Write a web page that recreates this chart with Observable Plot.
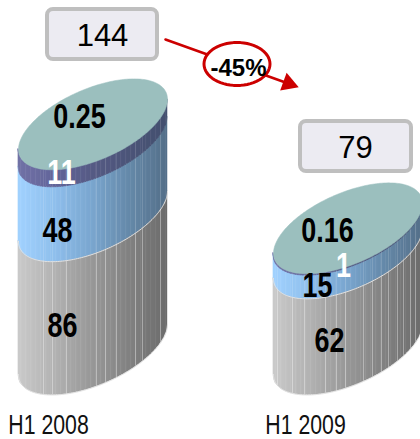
<!DOCTYPE html>
<html>
<head>
<meta charset="utf-8">
<style>html,body{margin:0;padding:0;background:#fff;overflow:hidden}svg{display:block}</style>
<script src="https://cdn.jsdelivr.net/npm/d3@7"></script>
<script src="https://cdn.jsdelivr.net/npm/@observablehq/plot@0.6"></script>
</head>
<body>
<div id="chart"></div>
<script>
// ---- data ----
const periods = ["H1 2008", "H1 2009"];
const totals = [144, 79];
const gray = [86, 62];
const blue = [48, 15];
const purple = [11, 1];
const teal = [0.25, 0.16];
const changeLabel = "-45%";

// ---- layout ----
const W = 420, H = 439;
const pxPerUnit = 1.55, basePx = 349;
const toY = p => (basePx - p) / pxPerUnit;
const centers = [92.5, 347.5];
const halfW = 74.5, halfHpx = 38, skewPx = 25;
const b = halfHpx / pxPerUnit, k = skewPx / pxPerUnit;
const ramps = {
  gray: ["#cbcbcb", "#b2b2b2", "#989898", "#828282", "#6c6c6c"],
  blue: ["#a2d2ff", "#8fbfec", "#7aa6cf", "#6589a9", "#55708a"],
  purple: ["#7272a6", "#62659a", "#565b85", "#4c5579", "#44506f"]
};
const ruleOpacity = { gray: 0.36, blue: 0.14, purple: 0.1, teal: 0 };
const slatLines = [
  [25, 34, 48, 78, 87, 98, 117, 124, 142, 149, 154, 160, 165],
  [277, 292, 304, 325, 336, 345, 363, 372, 381, 388, 397, 403, 410, 415]
];
const labelPx = { // pixel centres of the printed value labels
  gray: [[62, 325], [329, 340]],
  blue: [[57, 230], [317, 285]],
  purple: [[61, 172], [343, 265]],
  teal: [[79, 116], [327, 230]]
};
const FS = '"Liberation Sans",Arial,sans-serif';
const narrowValue = 0.77, narrowCaption = 0.76;

// ---- geometry through the chart's coordinates ----
const front = (c, base, x) => { const u = (x - c) / halfW; return base + k * u - b * Math.sqrt(Math.max(0, 1 - u * u)); };
const back = (c, base, x) => { const u = (x - c) / halfW; return base + k * u + b * Math.sqrt(Math.max(0, 1 - u * u)); };
const xs = c => { const out = []; const N = 120; for (let i = 0; i <= N; i++) out.push(c - halfW * Math.cos(Math.PI * i / N)); return out; };

const bands = [], bandEdges = [], faces = [], rules = [], valueLabels = [];
periods.forEach((p, i) => {
  const c = centers[i];
  const segs = [
    { key: "gray", v: gray[i] },
    { key: "blue", v: blue[i] },
    { key: "purple", v: purple[i] },
    { key: "teal", v: teal[i] }
  ];
  let cum = 0;
  segs.forEach((s, j) => {
    const lo = cum, hi = cum + s.v;
    cum = hi;
    const ramp = d3.scaleLinear().domain([0, .25, .5, .75, 1]).range(ramps[s.key] || ramps.purple);
    const step = 2.5;
    for (let x0 = c - halfW; x0 < c + halfW; x0 += step) {
      const id = `${i}-${j}-${x0}`;
      const xa = Math.min(x0 + step, c + halfW);
      const col = ramp((x0 + step / 2 - (c - halfW)) / (2 * halfW));
      const n = 3;
      for (let q = 0; q <= n; q++) {
        const x = x0 + (xa - x0) * q / n;
        bands.push({ id, x, y1: front(c, lo, x), y2: front(c, hi, x), col });
      }
    }
    if (j < 2) xs(c).forEach(x => bandEdges.push({ id: `${i}-${j}`, x, y: front(c, lo, x) }));
    slatLines[i].forEach(x => {
      const xx = i === 0 ? centers[0] - halfW + x : x;
      rules.push({ x: xx, y1: front(c, lo, xx), y2: front(c, hi, xx), o: ruleOpacity[s.key] });
    });
    const lab = labelPx[s.key][i];
    valueLabels.push({ text: String(s.v), x: lab[0], y: toY(lab[1]), white: s.key === "purple" });
  });
  const top = cum;
  xs(c).forEach(x => faces.push({ id: i, x, y: front(c, top, x) }));
  xs(c).reverse().forEach(x => faces.push({ id: i, x, y: back(c, top, x) }));
});

const boxes = [
  { x1: 47, x2: 157, y1: toY(59), y2: toY(9), text: totals[0], tx: 102, ty: toY(36) },
  { x1: 300, x2: 411, y1: toY(171), y2: toY(121), text: totals[1], tx: 355, ty: toY(148) }
];
const arrowLine = [{ x: 165, y: toY(39) }, { x: 285, y: toY(82) }];
const arrowHead = [{ x: 288, y: toY(83) }];
const ringC = [236.5, 63.5];
const ring = d3.range(0, 361, 6).map(a => ({
  x: ringC[0] + 33 * Math.cos(a * Math.PI / 180),
  y: toY(ringC[1] + 21.5 * Math.sin(a * Math.PI / 180))
}));
const captions = [{ text: periods[0], x: 48, y: toY(425) }, { text: periods[1], x: 305, y: toY(425) }];

const chart = Plot.plot({
  width: W, height: H,
  marginTop: 0, marginRight: 0, marginBottom: 0, marginLeft: 0,
  x: { axis: null, domain: [0, W] },
  y: { axis: null, domain: [toY(H), toY(0)] },
  style: { background: "#fff" },
  marks: [
    Plot.area(bands, { x1: "x", y1: "y1", y2: "y2", z: "id", fill: "col", stroke: "col", strokeWidth: 0.6 }),
    Plot.ruleX(rules, { x: "x", y1: "y1", y2: "y2", stroke: "#fff", strokeOpacity: "o", strokeWidth: 1 }),
    Plot.line(bandEdges, { x: "x", y: "y", z: "id", stroke: "#e2e2e2", strokeWidth: 1 }),
    Plot.line(faces, { x: "x", y: "y", z: "id", fill: "#9bbfbe", stroke: "#9bbfbe", strokeWidth: 0.5 }),
    Plot.rect(boxes, { x1: "x1", x2: "x2", y1: "y1", y2: "y2", fill: "#ecebf2", stroke: "#bfbfbf", strokeWidth: 4, rx: 6 }),
    Plot.text(boxes, { x: "tx", y: "ty", text: "text", fontSize: 31, fontFamily: FS, fill: "#000" }),
    Plot.line(arrowLine, { x: "x", y: "y", stroke: "#cc0000", strokeWidth: 2.6 }),
    Plot.dot(arrowHead, { x: "x", y: "y", symbol: "triangle", r: 7, rotate: 110, fill: "#cc0000", stroke: "none" }),
    Plot.line(ring, { x: "x", y: "y", fill: "#fff", stroke: "#cc0000", strokeWidth: 3 }),
    Plot.text([changeLabel], { x: () => ringC[0] + 1.5, y: () => toY(ringC[1] + 4), text: d => d, fontSize: 24, fontWeight: "bold", fontFamily: FS, fill: "#000" }),
    Plot.text(valueLabels, { x: "x", y: "y", text: "text", fontSize: 35, fontWeight: "bold", fontFamily: FS, fill: d => d.white ? "#fff" : "#000" }),
    Plot.text(captions, { x: "x", y: "y", text: "text", fontSize: 28, fontFamily: FS, fill: "#111" })
  ]
});
document.getElementById("chart").appendChild(chart);
// the reference uses a condensed face: squeeze the real text to the narrow width
const valueTexts = new Set(valueLabels.map(d => d.text));
chart.querySelectorAll("text").forEach(t => {
  const s = t.textContent;
  const f = valueTexts.has(s) ? narrowValue : periods.includes(s) ? narrowCaption : null;
  if (!f) return;
  t.setAttribute("textLength", t.getComputedTextLength() * f);
  t.setAttribute("lengthAdjust", "spacingAndGlyphs");
});
</script>
</body>
</html>
